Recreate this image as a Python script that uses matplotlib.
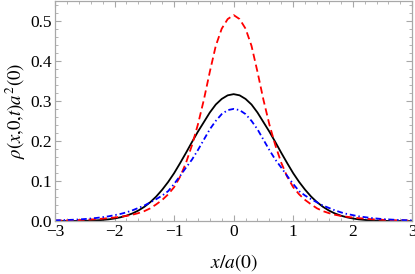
import numpy as np
import matplotlib
matplotlib.use("Agg")
import matplotlib.pyplot as plt
from matplotlib.ticker import MultipleLocator

plt.rcParams['font.family'] = ['Liberation Serif', 'DejaVu Serif']
plt.rcParams['mathtext.fontset'] = 'stix'
plt.rcParams['axes.unicode_minus'] = True

x_vals = [round(-3 + 0.1 * i, 1) for i in range(61)]

# half tables (x = 0.0 ... 3.0)
black_half = [0.318, 0.315, 0.306, 0.292, 0.272, 0.248, 0.224, 0.198, 0.171, 0.145,
              0.120, 0.098, 0.0786, 0.0616, 0.0474, 0.0358, 0.0265, 0.0192, 0.0137, 0.0096,
              0.0066, 0.0044, 0.0029, 0.0019, 0.0012, 0.0007, 0.0004, 0.0003, 0.0002, 0.0001, 0.0001]
red_half = [0.516, 0.506, 0.482, 0.439, 0.374, 0.304, 0.242, 0.190, 0.146, 0.111,
            0.085, 0.067, 0.053, 0.042, 0.032, 0.025, 0.020, 0.016, 0.013, 0.011,
            0.009, 0.0075, 0.0062, 0.005, 0.004, 0.0033, 0.0027, 0.0022, 0.0018, 0.0015, 0.0012]
blue_half = [0.281, 0.278, 0.268, 0.251, 0.230, 0.204, 0.178, 0.154, 0.134, 0.113,
             0.093, 0.075, 0.064, 0.055, 0.047, 0.039, 0.033, 0.027, 0.022, 0.018,
             0.015, 0.012, 0.010, 0.008, 0.0065, 0.0052, 0.0042, 0.0034, 0.0028, 0.0023, 0.0019]

black_vals = black_half[:0:-1] + black_half
red_vals = red_half[:0:-1] + red_half
blue_vals = blue_half[:0:-1] + blue_half

xticks = [-3, -2, -1, 0, 1, 2, 3]
yticks = [0.0, 0.1, 0.2, 0.3, 0.4, 0.5]
ytick_labels = ['0.0', '0.1', '0.2', '0.3', '0.4', '0.5']

fig = plt.figure(figsize=(4.15, 2.74), dpi=100)
ax = fig.add_axes([0.1325, 0.193, 0.861, 0.803])

ax.plot(x_vals, black_vals, color='black', lw=1.3, solid_capstyle='round')
ax.plot(x_vals, red_vals, color='#ff0000', lw=1.3, dashes=(4.0, 2.2))
ax.plot(x_vals, blue_vals, color='#0000ff', lw=1.3, dashes=(3.2, 1.6, 0.8, 1.6))

ax.set_xlim(-3, 3)
ax.set_ylim(0, 0.551)
ax.set_xticks(xticks)
ax.set_xticklabels([str(t).replace('-', '\u2212') for t in xticks])
ax.set_yticks(yticks)
ax.set_yticklabels(ytick_labels)
ax.xaxis.set_minor_locator(MultipleLocator(0.2))
ax.yaxis.set_minor_locator(MultipleLocator(0.02))

gray = '#a8a8a8'
for s in ax.spines.values():
    s.set_color(gray)
    s.set_linewidth(0.9)
ax.tick_params(which='both', direction='in', top=True, right=True, color=gray,
               labelsize=12.5, pad=2)
ax.tick_params(which='major', length=4, width=0.8)
ax.tick_params(which='minor', length=2.2, width=0.6)

ax.set_xlabel(r'$x/a(0)$', fontsize=14, labelpad=9)
ax.set_ylabel(r'$\rho(x{,}0{,}t)a^2(0)$', fontsize=13.5, labelpad=2)

fig.savefig('out.png', dpi=100)
